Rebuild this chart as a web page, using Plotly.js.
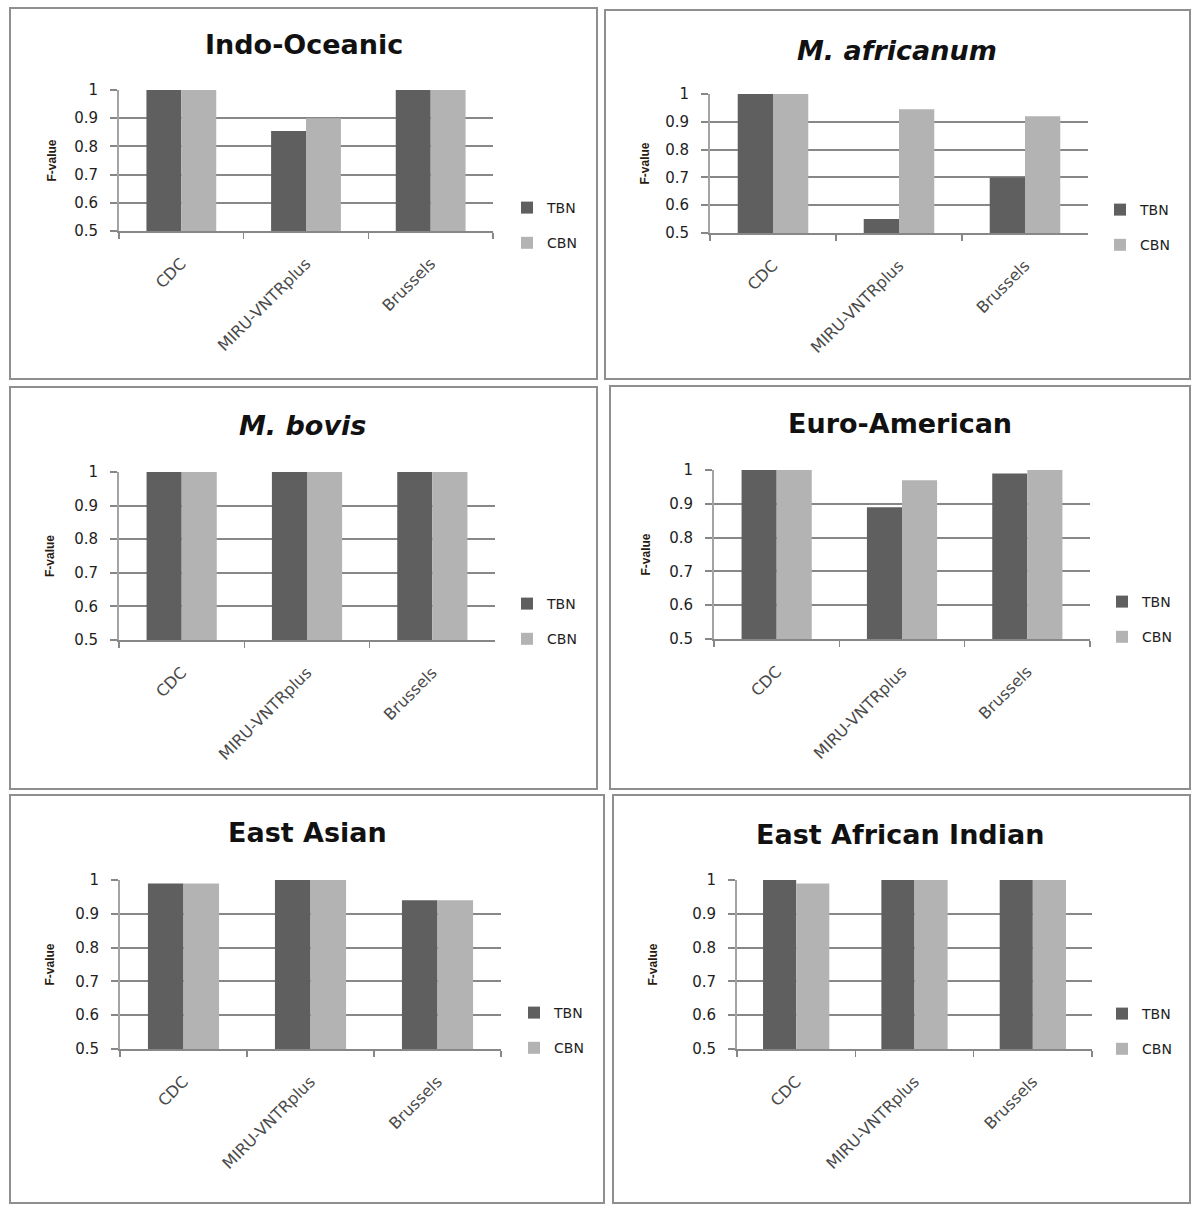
<!DOCTYPE html>
<html>
<head>
<meta charset="utf-8">
<script src="https://cdn.plot.ly/plotly-3.0.1.min.js"></script>
<style>html,body{margin:0;padding:0;background:#fff}#chart{width:1200px;height:1213px}</style>
</head>
<body>
<div id="chart"></div>
<script>
// ---- data ----
const categories = ['CDC', 'MIRU-VNTRplus', 'Brussels'];
const seriesNames = ['TBN', 'CBN'];
const panelTitles = ['Indo-Oceanic', '<i>M. africanum</i>', '<i>M. bovis</i>', 'Euro-American', 'East Asian', 'East African Indian'];
const yTickValues = [0.5, 0.6, 0.7, 0.8, 0.9, 1];

const indoOceanicTBN = [1, 0.855, 1];
const indoOceanicCBN = [1, 0.90, 1];
const africanumTBN = [1, 0.55, 0.70];
const africanumCBN = [1, 0.945, 0.92];
const bovisTBN = [1, 1, 1];
const bovisCBN = [1, 1, 1];
const euroAmericanTBN = [1, 0.89, 0.99];
const euroAmericanCBN = [1, 0.97, 1];
const eastAsianTBN = [0.99, 1, 0.94];
const eastAsianCBN = [0.99, 1, 0.94];
const eastAfricanIndianTBN = [1, 1, 1];
const eastAfricanIndianCBN = [0.99, 1, 1];

const tbnSeries = [indoOceanicTBN, africanumTBN, bovisTBN, euroAmericanTBN, eastAsianTBN, eastAfricanIndianTBN];
const cbnSeries = [indoOceanicCBN, africanumCBN, bovisCBN, euroAmericanCBN, eastAsianCBN, eastAfricanIndianCBN];

// ---- layout geometry (pixels) ----
const W = 1200, H = 1213;
const panels = [
  {box: [10, 8, 597, 379],    plot: [119, 90, 493, 231],   title: [304, 45],  legend: [527, 206], standoff: 15},
  {box: [605, 10, 1190, 379], plot: [710, 94, 1088, 233],  title: [897, 50],  legend: [1120, 208], standoff: 13},
  {box: [10, 387, 597, 789],  plot: [119, 472, 495, 640],  title: [302, 426], legend: [527, 602], standoff: 17},
  {box: [610, 386, 1190, 789],plot: [714, 470, 1090, 639], title: [900, 424], legend: [1122, 600], standoff: 16},
  {box: [10, 795, 604, 1203], plot: [120, 880, 501, 1049], title: [307, 832], legend: [534, 1011], standoff: 18},
  {box: [613, 795, 1190, 1203],plot: [737, 880, 1092, 1049],title: [900, 834], legend: [1122, 1012], standoff: 32}
];
const px = x => x / W;
const py = y => 1 - y / H;

const TBN_COLOR = '#5f5f5f';
const CBN_COLOR = '#b3b3b3';
const GRID = '#878787';

const traces = [];
const layout = {
  width: W, height: H,
  margin: {l: 0, r: 0, t: 0, b: 0},
  paper_bgcolor: '#ffffff',
  plot_bgcolor: '#ffffff',
  barmode: 'group',
  bargap: 0.44,
  bargroupgap: 0,
  showlegend: true,
  shapes: [],
  annotations: []
};

panels.forEach((p, i) => {
  const n = i + 1;
  const xa = 'xaxis' + (n === 1 ? '' : n);
  const ya = 'yaxis' + (n === 1 ? '' : n);
  const xr = 'x' + (n === 1 ? '' : n);
  const yr = 'y' + (n === 1 ? '' : n);
  const lg = 'legend' + (n === 1 ? '' : n);

  traces.push({
    type: 'bar', x: categories, y: tbnSeries[i], name: seriesNames[0],
    xaxis: xr, yaxis: yr, legend: lg, legendgroup: 'g' + n + 'a',
    marker: {color: TBN_COLOR, line: {width: 0}}, hoverinfo: 'x+y+name'
  });
  traces.push({
    type: 'bar', x: categories, y: cbnSeries[i], name: seriesNames[1],
    xaxis: xr, yaxis: yr, legend: lg, legendgroup: 'g' + n + 'b',
    marker: {color: CBN_COLOR, line: {width: 0}}, hoverinfo: 'x+y+name'
  });

  layout[xa] = {
    domain: [px(p.plot[0]), px(p.plot[2])],
    anchor: yr,
    type: 'category',
    showgrid: false,
    zeroline: false,
    showline: true, linecolor: GRID, linewidth: 2,
    ticks: 'outside', tickson: 'boundaries', ticklen: 6, tickwidth: 1.5, tickcolor: GRID,
    tickangle: -45,
    ticklabelstandoff: 15,
    tickfont: {family: 'DejaVu Sans', size: 16, color: '#4a4a4a'},
    fixedrange: true
  };
  layout[ya] = {
    domain: [py(p.plot[3]), py(p.plot[1])],
    anchor: xr,
    range: [0.5, 1],
    tickvals: yTickValues,
    ticktext: yTickValues.map(v => String(v)),
    showgrid: true, gridcolor: GRID, gridwidth: 2,
    zeroline: false,
    showline: true, linecolor: '#a3a3a3', linewidth: 2,
    ticks: 'outside', ticklen: 7, tickwidth: 2, tickcolor: GRID,
    ticklabelstandoff: 9,
    tickfont: {family: 'DejaVu Sans', size: 15, color: '#1e1e1e'},
    title: {text: 'F-value', standoff: p.standoff,
            font: {family: 'Liberation Sans', size: 12, weight: 700, color: '#2a1a10'}},
    fixedrange: true
  };
  layout[lg] = {
    x: px(p.legend[0] - 20), xanchor: 'left',
    y: py(p.legend[1] - 14), yanchor: 'top',
    bgcolor: 'rgba(0,0,0,0)',
    font: {family: 'DejaVu Sans', size: 14, color: '#1e1e1e'},
    tracegroupgap: 14,
    itemclick: false, itemdoubleclick: false
  };

  layout.shapes.push({
    type: 'rect', xref: 'paper', yref: 'paper',
    x0: px(p.box[0]), x1: px(p.box[2]), y0: py(p.box[3]), y1: py(p.box[1]),
    line: {color: '#8f8f8f', width: 2}, fillcolor: 'rgba(0,0,0,0)', layer: 'below'
  });
  layout.annotations.push({
    text: panelTitles[i], xref: 'paper', yref: 'paper',
    x: px(p.title[0]), y: py(p.title[1]), xanchor: 'center', yanchor: 'middle',
    showarrow: false,
    font: {family: 'DejaVu Sans', size: 27, weight: 700, color: '#111111'}
  });
});

Plotly.newPlot('chart', traces, layout, {displayModeBar: false, staticPlot: true});
</script>
</body>
</html>
